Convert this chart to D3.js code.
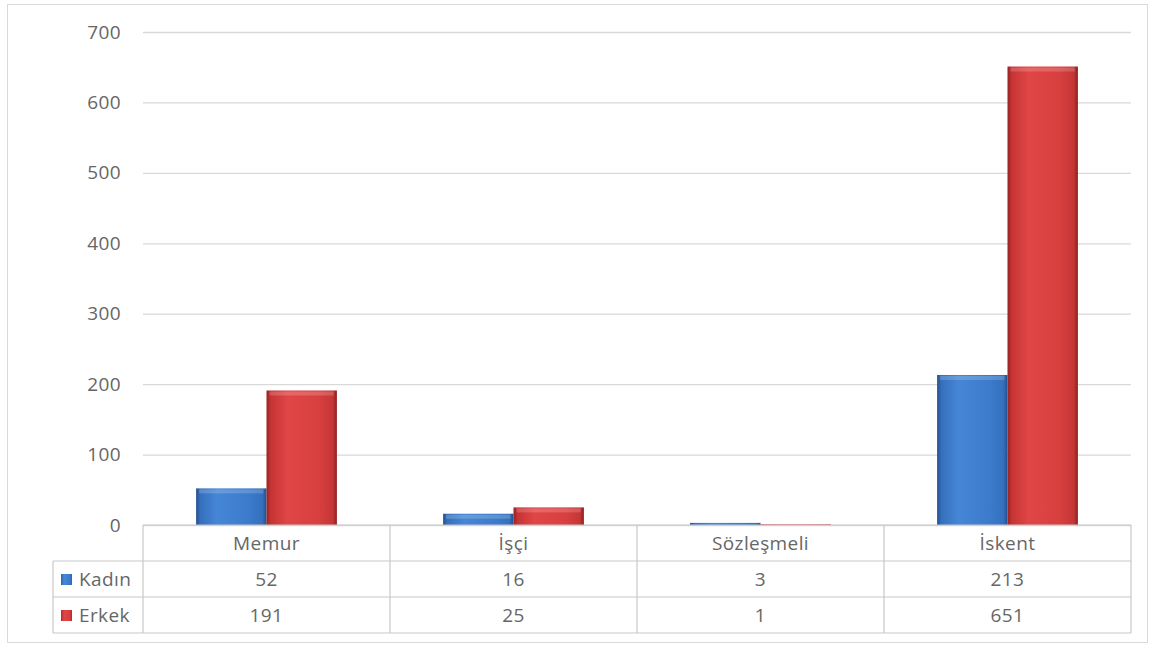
<!DOCTYPE html>
<html><head><meta charset="utf-8">
<script src="https://cdn.jsdelivr.net/npm/d3@7/dist/d3.min.js"></script>
<style>body{margin:0;background:#fff}svg{display:block}text{font-family:"Open Sans",sans-serif;fill:#666;letter-spacing:0.4px}</style>
</head><body><svg id="c" width="1155" height="648"></svg>
<script>
const categories = ["Memur", "İşçi", "Sözleşmeli", "İskent"];
const seriesNames = ["Kadın", "Erkek"];
const kadin = [52, 16, 3, 213];
const erkek = [191, 25, 1, 651];
const yTicks = [0, 100, 200, 300, 400, 500, 600, 700];

const svg = d3.select("#c");
const m = {left: 143, right: 1131, top: 32, bottom: 525};
const rowH = 36;

// outer border
svg.append("rect").attr("x", 7.5).attr("y", 4.5).attr("width", 1140).attr("height", 638)
  .attr("fill", "#fff").attr("stroke", "#d9d9d9");

const defs = svg.append("defs");
function grad(id, stops) {
  const g = defs.append("linearGradient").attr("id", id).attr("x1", 0).attr("x2", 1).attr("y1", 0).attr("y2", 0);
  stops.forEach(s => g.append("stop").attr("offset", s[0]).attr("stop-color", s[1]));
}
grad("gBlue", [[0, "#24508f"], [0.06, "#3570bd"], [0.3, "#4686d6"], [0.75, "#3c7bcb"], [0.94, "#3470bd"], [1, "#24508f"]]);
grad("gRed", [[0, "#982222"], [0.06, "#c63434"], [0.3, "#e04646"], [0.75, "#d83f3f"], [0.94, "#c53636"], [1, "#8e1f1f"]]);

const x0 = d3.scaleBand().domain(categories).range([m.left, m.right]).paddingInner(0).paddingOuter(0);
const inner = 0.57;
const x1 = d3.scaleBand().domain(seriesNames).range([0, x0.bandwidth() * inner]);
const y = d3.scaleLinear().domain([0, 700]).range([m.bottom, m.top]);

// gridlines
const yAxis = d3.axisLeft(y).tickValues(yTicks).tickSize(-(m.right - m.left)).tickFormat(d3.format("d")).tickPadding(22);
const ga = svg.append("g").attr("transform", `translate(${m.left},0)`).call(yAxis);
ga.select(".domain").remove();
ga.selectAll(".tick line").attr("stroke", "#d9d9d9").attr("stroke-width", 1.3);
ga.selectAll(".tick text").attr("font-size", 19).attr("fill", "#666").style("font-family", '"Open Sans",sans-serif');

// bars
const data = categories.map((c, i) => ({cat: c, vals: [{s: "Kadın", v: kadin[i]}, {s: "Erkek", v: erkek[i]}]}));
const off = (x0.bandwidth() * (1 - inner)) / 2;
const gc = svg.append("g");
data.forEach(d => {
  d.vals.forEach(v => {
    const bx = x0(d.cat) + off + x1(v.s);
    const by = y(v.v);
    const bh = y(0) - y(v.v);
    const bw = x1.bandwidth();
    gc.append("rect").attr("x", bx).attr("y", by).attr("width", bw).attr("height", bh)
      .attr("fill", v.s === "Kadın" ? "url(#gBlue)" : "url(#gRed)");
    if (bh > 8) {
      gc.append("rect").attr("x", bx + 3).attr("y", by + 1).attr("width", bw - 6).attr("height", 4)
        .attr("fill", "#fff").attr("opacity", 0.18);
    }
  });
});

// data table
const tg = svg.append("g").attr("stroke", "#c8c8c8").attr("stroke-width", 1.2).attr("fill", "none");
const tTop = m.bottom;
tg.append("line").attr("x1", m.left).attr("x2", m.right).attr("y1", tTop).attr("y2", tTop);
for (let r = 1; r <= 3; r++) {
  tg.append("line").attr("x1", 53).attr("x2", m.right).attr("y1", tTop + r * rowH).attr("y2", tTop + r * rowH);
}
categories.forEach(c => {
  tg.append("line").attr("x1", x0(c)).attr("x2", x0(c)).attr("y1", tTop).attr("y2", tTop + 3 * rowH);
});
tg.append("line").attr("x1", m.right).attr("x2", m.right).attr("y1", tTop).attr("y2", tTop + 3 * rowH);
tg.append("line").attr("x1", 53).attr("x2", 53).attr("y1", tTop + rowH).attr("y2", tTop + 3 * rowH);

const tt = svg.append("g").attr("font-size", 19);
categories.forEach((c, i) => {
  const cx = x0(c) + x0.bandwidth() / 2;
  tt.append("text").attr("x", cx).attr("y", tTop + rowH / 2 + 7).attr("text-anchor", "middle").text(c);
  tt.append("text").attr("x", cx).attr("y", tTop + rowH * 1.5 + 7).attr("text-anchor", "middle").text(kadin[i]);
  tt.append("text").attr("x", cx).attr("y", tTop + rowH * 2.5 + 7).attr("text-anchor", "middle").text(erkek[i]);
});
seriesNames.forEach((s, i) => {
  const cy = tTop + rowH * (1.5 + i);
  svg.append("rect").attr("x", 61).attr("y", cy - 5).attr("width", 11).attr("height", 11)
    .attr("fill", i === 0 ? "url(#gBlue)" : "url(#gRed)");
  tt.append("text").attr("x", 79).attr("y", cy + 7).text(s);
});
</script></body></html>
